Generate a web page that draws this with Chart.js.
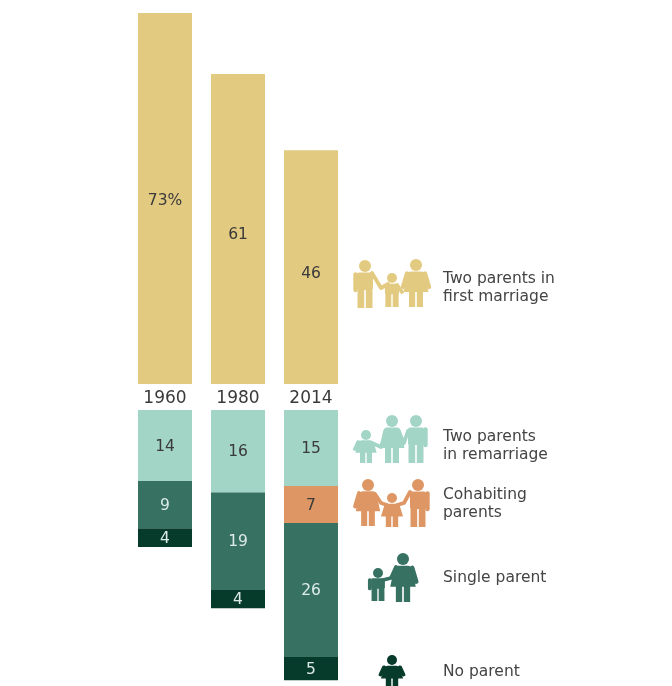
<!DOCTYPE html>
<html>
<head>
<meta charset="utf-8">
<script src="https://cdn.jsdelivr.net/npm/chart.js@4"></script>
<style>
html, body { margin: 0; padding: 0; background: #fff; }
#page { position: relative; width: 672px; height: 686px; overflow: hidden; filter: blur(0.7px); }
canvas { position: absolute; left: 0; }
#topChart { top: 0; }
#bottomChart { top: 410px; }
#icons { position: absolute; left: 0; top: 0; }
.key { position: absolute; left: 443px; font: 15.5px/18px "DejaVu Sans", sans-serif; color: #444; white-space: pre; }
</style>
</head>
<body>
<div id="page">
  <canvas id="topChart" width="672" height="410"></canvas>
  <canvas id="bottomChart" width="672" height="276"></canvas>
  <svg id="icons" width="672" height="686"></svg>
</div>
<script>
var years = ["1960", "1980", "2014"];
var firstMarriage = [73, 61, 46];
var remarriage = [14, 16.2, 15];
var cohabiting = [null, null, 7.3];
var singleParent = [9.3, 19.3, 26.4];
var noParent = [3.7, 3.6, 4.6];

var colFirst = "#E3CA81", colRemarriage = "#A2D5C6", colCohab = "#DE9764", colSingle = "#367162", colNone = "#063A2A";
var fontFamily = '"DejaVu Sans", sans-serif';

// px per percentage point in the original, both panels share it
var pxPerUnit = 5.07;
// the numbers in the top panel sit a bit below the bar middle
var topNudge = [2.5, 5.5, 6.5];

// draws the number in the middle of every bar
var barLabels = {
    id: "barLabels",
    afterDatasetsDraw: function (chart) {
        var ctx = chart.ctx;
        var isTop = chart.canvas.id === "topChart";
        ctx.save();
        ctx.font = "15.5px " + fontFamily;
        ctx.textAlign = "center";
        ctx.textBaseline = "middle";
        chart.data.datasets.forEach(function (ds, i) {
            chart.getDatasetMeta(i).data.forEach(function (bar, j) {
                var v = ds.data[j];
                if (v === null) return;
                var p = bar.getCenterPoint();
                var txt = String(Math.round(v));
                if (isTop && j === 0) txt += "%";
                ctx.fillStyle = ds.labelColor;
                ctx.fillText(txt, p.x, p.y + (isTop ? topNudge[j] : 1));
            });
        });
        ctx.restore();
    }
};

Chart.defaults.animation = false;
Chart.defaults.responsive = false;
Chart.defaults.plugins.legend.display = false;
Chart.defaults.plugins.tooltip.enabled = false;

new Chart(document.getElementById("topChart"), {
    type: "bar",
    data: {
        labels: years,
        datasets: [
            { data: firstMarriage, backgroundColor: colFirst, labelColor: "#3a3a3a", barPercentage: 0.74, categoryPercentage: 1 }
        ]
    },
    options: {
        layout: { padding: { left: 128.5, right: 324.5, top: 13, bottom: 0 } },
        scales: {
            x: {
                grid: { display: false, drawTicks: false },
                border: { display: false },
                ticks: { color: "#3a3a3a", font: { size: 17, family: fontFamily }, padding: 4, maxRotation: 0 },
                afterFit: function (scale) { scale.height = 26; }
            },
            y: { display: false, min: 0, max: 73 }
        }
    },
    plugins: [barLabels]
});

new Chart(document.getElementById("bottomChart"), {
    type: "bar",
    data: {
        labels: years,
        datasets: [
            { data: remarriage, backgroundColor: colRemarriage, labelColor: "#3a3a3a" },
            { data: cohabiting, backgroundColor: colCohab, labelColor: "#3a3a3a" },
            { data: singleParent, backgroundColor: colSingle, labelColor: "#dcebe6" },
            { data: noParent, backgroundColor: colNone, labelColor: "#dcebe6" }
        ]
    },
    options: {
        datasets: { bar: { barPercentage: 0.74, categoryPercentage: 1 } },
        layout: { padding: { left: 128.5, right: 324.5, top: 0, bottom: 0 } },
        scales: {
            x: { display: false, stacked: true },
            y: { display: false, stacked: true, reverse: true, min: 0, max: 276 / pxPerUnit }
        }
    },
    plugins: [barLabels]
});

// legend text
var keyLabels = [
    ["Two parents in\nfirst marriage", 269],
    ["Two parents\nin remarriage", 427],
    ["Cohabiting\nparents", 485],
    ["Single parent", 568],
    ["No parent", 662]
];
keyLabels.forEach(function (k) {
    var d = document.createElement("div");
    d.className = "key";
    d.style.top = k[1] + "px";
    d.textContent = k[0];
    document.getElementById("page").appendChild(d);
});

// little people next to the legend, hands says which arms are drawn separately
function person(kind, cx, top, h, col, hands, child) {
    var sy = h / 48;
    var sx = child ? sy * 1.25 : sy;
    var r = child ? 5 : 6;
    var out = '<circle cx="' + cx + '" cy="' + (top + r) + '" r="' + r + '" fill="' + col + '"/>';
    out += '<g transform="translate(' + cx + ' ' + top + ') scale(' + sx + ' ' + sy + ')" fill="' + col + '" stroke="none">';
    var armStyle = ' stroke="' + col + '" stroke-width="4.4" stroke-linecap="round" fill="none"';
    var y0 = child ? 15 : 12.5;
    if (kind === "man") {
        out += '<path d="M-6 ' + y0 + ' H6 Q8 ' + y0 + ' 8 ' + (y0 + 2) + ' V29 H7.5 V48 H0.8 V30 H-0.8 V48 H-7.5 V29 H-8 V' + (y0 + 2) + ' Q-8 ' + y0 + ' -6 ' + y0 + ' Z"/>';
        if (hands.indexOf("l") < 0) out += '<path d="M-9.5 ' + (y0 + 2) + ' V30"' + armStyle + '/>';
        if (hands.indexOf("r") < 0) out += '<path d="M9.5 ' + (y0 + 2) + ' V30"' + armStyle + '/>';
    } else {
        out += '<path d="M-5 ' + y0 + ' H5 Q8 ' + y0 + ' 9 ' + (y0 + 4) + ' L12.5 33 H7 V48 H0.8 V33 H-0.8 V48 H-7 V33 H-12.5 L-9 ' + (y0 + 4) + ' Q-8 ' + y0 + ' -5 ' + y0 + ' Z"/>';
        if (hands.indexOf("l") < 0) out += '<path d="M-9 ' + (y0 + 2) + ' L-13 28"' + armStyle + '/>';
        if (hands.indexOf("r") < 0) out += '<path d="M9 ' + (y0 + 2) + ' L13 28"' + armStyle + '/>';
    }
    return out + '</g>';
}
function arm(points, col) {
    return '<path d="M' + points + '" fill="none" stroke="' + col + '" stroke-width="3.8" stroke-linecap="round" stroke-linejoin="round"/>';
}
var svg = "";
// first marriage
svg += person("man", 365, 260, 48, colFirst, "r") + arm("372 273 L381 288 L388 284", colFirst);
svg += person("man", 392, 273, 34, colFirst, "lr", true) + arm("397 285 L402 292", colFirst);
svg += person("woman", 416, 259, 48, colFirst, "");
// remarriage
svg += person("woman", 366, 430, 33, colRemarriage, "r", true) + arm("372 443 L381 447 L386 432", colRemarriage);
svg += person("woman", 392, 415, 48, colRemarriage, "lr") + arm("398 430 L404 443 L408 431", colRemarriage);
svg += person("man", 416, 415, 48, colRemarriage, "l");
// cohabiting
svg += person("woman", 368, 479, 47, colCohab, "r") + arm("375 494 L381 503 L387 505", colCohab);
svg += person("woman", 392, 493, 34, colCohab, "lr", true) + arm("397 505 L404 503 L410 492", colCohab);
svg += person("man", 418, 479, 48, colCohab, "l");
// single
svg += person("man", 378, 568, 33, colSingle, "r", true) + arm("383 580 L391 578 L396 567", colSingle);
svg += person("woman", 403, 553, 49, colSingle, "l");
// no parent
svg += person("woman", 392, 655, 34, colNone, "", true);
document.getElementById("icons").innerHTML = svg;
</script>
</body>
</html>
